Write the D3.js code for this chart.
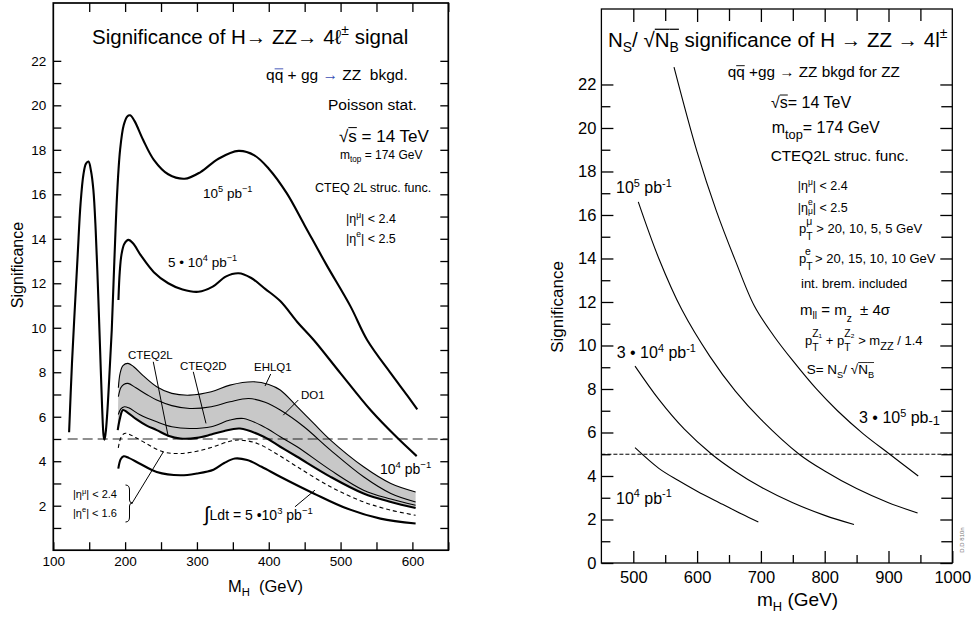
<!DOCTYPE html>
<html><head><meta charset="utf-8">
<script src="https://cdn.jsdelivr.net/npm/d3@7"></script>
<style>body{margin:0;background:#fff}svg{display:block}text{font-family:"Liberation Sans",Arial,Helvetica,sans-serif;white-space:pre}</style>
</head><body><svg id="c" width="972" height="619"></svg>
<script>
// ---------------- DATA (left panel: M_H in GeV, significance) ----------------
const leftXTicks = [100, 200, 300, 400, 500, 600];
const leftYTicks = [2, 4, 6, 8, 10, 12, 14, 16, 18, 20, 22];
const L_1e5 = [[122,5.3],[126,8.4],[130,10.9],[134,13.3],[138,15.6],[142,16.9],[145.5,17.38],[149,17.47],[152.5,17.05],[155.8,16.2],[159,14.4],[162.8,11.25],[165.5,8.7],[168,6.4],[170,5.15],[171.2,4.97],[172.8,5.25],[175,6.1],[178,7.8],[181.4,9.9],[185,13.0],[189,16.1],[193,18.0],[198,19.1],[203,19.5],[207,19.55],[213,19.3],[225,18.45],[240,17.55],[260,16.9],[283,16.7],[305,17.0],[330,17.6],[358,17.95],[380,17.75],[400,17.15],[425,16.05],[450,14.6],[480,12.85],[514,10.95],[537,9.45],[570,7.95],[593,6.95],[606.8,6.33]];
const L_5e4 = [[190.7,11.25],[192.5,12.5],[195,13.3],[199,13.78],[204.6,13.95],[211,13.8],[222,13.25],[240,12.5],[260,12.0],[280,11.72],[302,11.62],[322,11.85],[340,12.3],[358,12.45],[375,12.25],[395,11.75],[416,11.2],[440,10.25],[462.6,9.45],[500,7.95],[541.7,6.3],[579,5.05],[606,4.23]];
const L_EHLQ1 = [[190.6,7.3],[193,7.95],[197,8.3],[204,8.4],[212,8.25],[225,7.85],[244,7.35],[265,7.05],[290,6.97],[320,7.12],[346,7.42],[379,7.57],[400,7.45],[416,7.2],[439.5,6.45],[462.6,5.7],[486,4.95],[532,3.75],[570,3.0],[604.5,2.62]];
const L_DO1 = [[190.6,6.9],[194,7.3],[198,7.45],[204,7.5],[215,7.3],[230,7.0],[244,6.75],[265,6.5],[290,6.37],[320,6.45],[346,6.67],[372,6.82],[395,6.65],[416,6.3],[449,5.55],[486,4.5],[532,3.3],[570,2.55],[604.5,2.17]];
const L_CTEQ2D = [[190.6,6.1],[194,6.35],[199,6.45],[205,6.4],[220,6.1],[244,5.77],[265,5.55],[290,5.47],[320,5.55],[346,5.85],[365,5.92],[393,5.55],[416,5.1],[439.5,4.65],[486,3.6],[532,2.7],[570,2.3],[604.5,2.02]];
const L_CTEQ2L_1e4 = [[189.7,5.4],[193,5.95],[197,6.3],[203,6.2],[215,5.9],[230,5.6],[244,5.4],[260,5.15],[277,5.02],[300,5.05],[320,5.2],[337,5.35],[360,5.47],[393,5.1],[416,4.65],[439.5,4.2],[486,3.3],[532,2.55],[570,2.17],[604.5,1.9]];
const L_eta16 = [[190.5,4.6],[194,5.05],[199,5.25],[205,5.22],[221,4.95],[253,4.42],[277,4.35],[300,4.45],[323,4.65],[346,4.9],[360,4.95],[384,4.8],[410,4.35],[439.5,3.75],[486,2.85],[532,2.17],[570,1.8],[604.5,1.57]];
const L_5e3 = [[190.5,3.67],[194,4.1],[198,4.22],[205,4.15],[220,3.9],[244,3.52],[277,3.37],[300,3.45],[323,3.62],[338,3.92],[353,4.12],[370,4.05],[390,3.75],[416,3.3],[462.6,2.55],[509,1.87],[555.5,1.42],[604.5,1.2]];
const L_threshold = [[120,5],[650,5]];
// pointer lines (data coords)
const L_pointers = [
  [[239.2,8.47],[260.1,5.1]],   // CTEQ2L
  [[294.9,8.02],[312.6,5.7]],   // CTEQ2D
  [[402.7,7.92],[394.8,7.38]],  // EHLQ1
  [[441.1,6.75],[420.2,6.07]],  // DO1
  [[209.6,2.11],[253.2,4.42]],  // eta < 1.6
  [[436.5,1.95],[464.3,2.7]]    // 5e3
];
// ---------------- DATA (right panel) ----------------
const rightXTicks = [500, 600, 700, 800, 900, 1000];
const rightYTicks = [0, 2, 4, 6, 8, 10, 12, 14, 16, 18, 20, 22];
const R_3e5 = [[563.8,22.8],[600,18.9],[630,16.2],[660,13.9],[690,11.8],[720,10.45],[750,9.3],[787,8.0],[820,7.0],[860,5.95],[902,5.0],[946.6,4.0]];
const R_1e5 = [[507.8,16.6],[540,14.0],[576,11.65],[620,9.5],[660,7.9],[700,6.6],[760,5.0],[800,4.23],[850,3.42],[900,2.77],[945.6,2.3]];
const R_3e4 = [[502.7,9.05],[540,7.52],[580,6.15],[622.9,5.0],[660,4.21],[700,3.49],[750,2.77],[800,2.19],[845.9,1.77]];
const R_1e4 = [[502.7,5.3],[540,4.35],[570,3.8],[600,3.3],[640,2.7],[670,2.25],[696,1.88]];
const R_threshold = [[450,5],[1000,5]];

// ---------------- DRAW ----------------
const svg = d3.select('#c');
const xL = d3.scaleLinear([100,650],[53.3,448.3]);
const yL = d3.scaleLinear([0,24.6],[550.2,3]);
const xR = d3.scaleLinear([450,1000],[601.4,952.3]);
const yR = d3.scaleLinear([0,25.47],[563,9]);

const curve = d3.curveCatmullRom.alpha(0.5);
const lineL = d3.line().x(d=>xL(d[0])).y(d=>yL(d[1])).curve(curve);
const lineR = d3.line().x(d=>xR(d[0])).y(d=>yR(d[1])).curve(curve);
const straightL = d3.line().x(d=>xL(d[0])).y(d=>yL(d[1]));
const straightR = d3.line().x(d=>xR(d[0])).y(d=>yR(d[1]));

// rich text helper
function rich(g, x, y, fs, segs, opts={}) {
  const t = g.append('text').attr('x',x).attr('y',y).attr('font-size',fs)
     .attr('text-anchor', opts.anchor||'start');
  if (opts.transform) t.attr('transform', opts.transform);
  let cur = 0, prevW = 0, pendingDx = 0, idx = 0;
  const overs = [];
  segs.forEach(s => {
    const sz = fs * (s.k || (s.s ? 0.68 : 1));
    let off = s.s==='sup' ? -fs*0.42 : s.s==='sub' ? fs*0.28 : 0;
    if (s.off !== undefined) off = fs*s.off;
    const ts = t.append('tspan').attr('font-size', sz).text(s.t);
    const dy = off - cur; if (Math.abs(dy)>1e-6) ts.attr('dy', dy); cur = off;
    let dx = pendingDx; pendingDx = 0;
    if (s.stack) dx -= prevW;
    if (dx) ts.attr('dx', dx);
    if (s.fill) ts.attr('fill', s.fill);
    const w = ts.node().getComputedTextLength();
    if (s.stack && w < prevW) pendingDx = prevW - w;
    if (s.over) overs.push({a: idx, b: idx + s.t.length - 1, fill: s.overFill || '#000', k: s.overK || 0.8});
    idx += s.t.length;
    prevW = w;
  });
  const node = t.node();
  overs.forEach(o => {
    const p0 = node.getStartPositionOfChar(o.a), p1 = node.getEndPositionOfChar(o.b);
    g.append('line').attr('x1',p0.x).attr('x2',p1.x).attr('y1',y - fs*o.k).attr('y2',y - fs*o.k)
      .attr('stroke',o.fill).attr('stroke-width',Math.max(0.8, fs*0.06))
      .attr('transform', opts.transform||null);
  });
  return t;
}

// ======== LEFT PANEL ========
const gL = svg.append('g');
// band
const bandPath = lineL(L_EHLQ1) + lineL(L_CTEQ2L_1e4.slice().reverse()).replace(/^M/,'L') + 'Z';
gL.append('path').attr('d', bandPath).attr('fill','#c8c8c8').attr('stroke','none');

// axes
function styleAxis(sel){ sel.select('.domain').remove(); sel.selectAll('.tick line').attr('stroke','#000').attr('stroke-width',1.3); sel.selectAll('.tick text').attr('fill','#000').attr('font-family','"Liberation Sans",Arial,sans-serif'); }
gL.append('g').attr('transform',`translate(0,${yL(0)})`)
  .call(d3.axisBottom(xL).tickValues(d3.range(100,651,50)).tickSize(-8).tickPadding(6)
        .tickFormat(d => leftXTicks.includes(d) ? d : ''))
  .call(styleAxis).selectAll('text').attr('font-size',13.5);
gL.append('g').attr('transform',`translate(0,${yL(24.6)})`)
  .call(d3.axisTop(xL).tickValues(d3.range(150,651,50)).tickSize(-9).tickFormat(''))
  .call(styleAxis);
gL.append('g').attr('transform',`translate(${xL(100)},0)`)
  .call(d3.axisLeft(yL).tickValues(d3.range(1,23)).tickSize(-8).tickPadding(7)
        .tickFormat(d => leftYTicks.includes(d) ? d : ''))
  .call(styleAxis).selectAll('text').attr('font-size',13.5);
gL.append('g').attr('transform',`translate(${xL(650)},0)`)
  .call(d3.axisRight(yL).tickValues(d3.range(1,23)).tickSize(-8).tickFormat(''))
  .call(styleAxis);
gL.append('rect').attr('x',xL(100)).attr('y',yL(24.6)).attr('width',xL(650)-xL(100)).attr('height',yL(0)-yL(24.6))
  .attr('fill','none').attr('stroke','#000').attr('stroke-width',1.7);

// threshold
gL.append('path').attr('d', straightL(L_threshold)).attr('fill','none').attr('stroke','#222').attr('stroke-width',1.2).attr('stroke-dasharray','10,5');
// curves
const leftSeries = [
  {d:L_1e5, w:2.1}, {d:L_5e4, w:2.1}, {d:L_EHLQ1, w:1.1}, {d:L_DO1, w:1.1},
  {d:L_CTEQ2D, w:1.1}, {d:L_CTEQ2L_1e4, w:2.1}, {d:L_eta16, w:1.1, dash:'4,3'}, {d:L_5e3, w:2.1}
];
leftSeries.forEach(s => gL.append('path').attr('d', lineL(s.d)).attr('fill','none').attr('stroke','#000')
  .attr('stroke-width', s.w).attr('stroke-dasharray', s.dash||null).attr('stroke-linejoin','round'));
L_pointers.forEach(p => gL.append('path').attr('d', straightL(p)).attr('stroke','#000').attr('stroke-width',1));
// brace
gL.append('path').attr('d','M125.5,485 q4,0 4,5 v10 q0,3 3,3 q-3,0 -3,3 v11 q0,5 -4,5').attr('fill','none').attr('stroke','#000').attr('stroke-width',1);

// left texts
const BLUE = '#3a4db5';
rich(gL, 92, 44, 20.5, [{t:'Significance of H'},{t:'→ '},{t:'ZZ'},{t:'→ '},{t:'4ℓ'},{t:'±',s:'sup'},{t:' signal'}]);
rich(gL, 266, 80, 15.5, [{t:'q'},{t:'q',over:true,overFill:BLUE,overK:0.72},{t:' + gg '},{t:'→',fill:BLUE},{t:' ZZ  bkgd.'}]);
rich(gL, 328, 110, 15.5, [{t:'Poisson stat.'}]);
rich(gL, 339, 141.7, 17, [{t:'√'},{t:'s',over:true,overK:0.83},{t:' = 14 TeV'}]);
rich(gL, 340, 159, 12, [{t:'m'},{t:'top',s:'sub'},{t:' = 174 GeV'}]);
rich(gL, 315, 191.7, 12.5, [{t:'CTEQ 2L struc. func.'}]);
rich(gL, 346, 223, 12.5, [{t:'|η'},{t:'μ',s:'sup'},{t:'| < 2.4'}]);
rich(gL, 346, 242.5, 12.5, [{t:'|η'},{t:'e',s:'sup'},{t:'| < 2.5'}]);
rich(gL, 203, 198, 13.5, [{t:'10'},{t:'5',s:'sup'},{t:' pb'},{t:'−1',s:'sup'}]);
rich(gL, 168, 266.7, 13.5, [{t:'5 • 10'},{t:'4',s:'sup'},{t:' pb'},{t:'−1',s:'sup'}]);
rich(gL, 128, 359.3, 11.5, [{t:'CTEQ2L'}]);
rich(gL, 180, 370, 11.5, [{t:'CTEQ2D'}]);
rich(gL, 254, 371, 11.5, [{t:'EHLQ1'}]);
rich(gL, 301, 399, 11.5, [{t:'DO1'}]);
rich(gL, 380, 474, 14, [{t:'10'},{t:'4',s:'sup'},{t:' pb'},{t:'−1',s:'sup'}]);
rich(gL, 73, 498.3, 11, [{t:'|η'},{t:'μ',s:'sup'},{t:'| < 2.4'}]);
rich(gL, 73, 516.7, 11, [{t:'|η'},{t:'e',s:'sup'},{t:'| < 1.6'}]);
rich(gL, 204, 520, 14, [{t:'∫',k:1.45,off:0.05},{t:'Ldt = 5 •10'},{t:'3',s:'sup'},{t:' pb'},{t:'−1',s:'sup'}]);
rich(gL, 0, 0, 16, [{t:'Significance'}], {anchor:'middle', transform:'translate(23,265) rotate(-90)'});
rich(gL, 228, 591.7, 16.5, [{t:'M'},{t:'H',s:'sub'},{t:'  (GeV)'}]);

// ======== RIGHT PANEL ========
const gR = svg.append('g');
function ticksR(axisFn, tr, vals, size) {
  return gR.append('g').attr('transform', tr).call(axisFn.tickValues(vals).tickSize(size).tickFormat('')).call(styleAxis);
}
// minor ticks
ticksR(d3.axisBottom(xR), `translate(0,${yR(0)})`, d3.range(550,1000,100), -8);
ticksR(d3.axisTop(xR), `translate(0,${yR(25.47)})`, d3.range(550,1000,100), -12);
ticksR(d3.axisLeft(yR), `translate(${xR(450)},0)`, d3.range(1,22,2), -9);
ticksR(d3.axisRight(yR), `translate(${xR(1000)},0)`, d3.range(1,22,2), -11);
// major ticks with labels
gR.append('g').attr('transform',`translate(0,${yR(0)})`)
  .call(d3.axisBottom(xR).tickValues(rightXTicks).tickSize(-12).tickPadding(8).tickFormat(d=>d))
  .call(styleAxis).selectAll('text').attr('font-size',16.5);
ticksR(d3.axisTop(xR), `translate(0,${yR(25.47)})`, rightXTicks.slice(0,5), -13);
gR.append('g').attr('transform',`translate(${xR(450)},0)`)
  .call(d3.axisLeft(yR).tickValues(rightYTicks).tickSize(-12).tickPadding(5).tickFormat(d=>d))
  .call(styleAxis).selectAll('text').attr('font-size',16.5);
ticksR(d3.axisRight(yR), `translate(${xR(1000)},0)`, rightYTicks, -12);
gR.append('rect').attr('x',xR(450)).attr('y',yR(25.47)).attr('width',xR(1000)-xR(450)).attr('height',yR(0)-yR(25.47))
  .attr('fill','none').attr('stroke','#000').attr('stroke-width',1.3);

gR.append('path').attr('d', straightR(R_threshold)).attr('fill','none').attr('stroke','#000').attr('stroke-width',1).attr('stroke-dasharray','4,2');
[R_3e5, R_1e5, R_3e4, R_1e4].forEach(d => gR.append('path').attr('d', lineR(d)).attr('fill','none').attr('stroke','#000').attr('stroke-width',1.1));

rich(gR, 608, 46.7, 20.5, [{t:'N'},{t:'S',s:'sub'},{t:'/ '},{t:'√'},{t:'N',over:true,overK:0.85},{t:'B',s:'sub',over:true,overK:0.85},{t:' significance of H → ZZ → 4l'},{t:'±',s:'sup'}]);
rich(gR, 727.7, 76.7, 15.3, [{t:'q'},{t:'q',over:true,overK:0.72},{t:' +gg → ZZ bkgd for ZZ'}]);
rich(gR, 771, 108.3, 16, [{t:'√'},{t:'s',over:true,overK:0.83},{t:'= 14 TeV'}]);
rich(gR, 771.7, 133.3, 16, [{t:'m'},{t:'top',s:'sub',off:0.33,k:0.8},{t:'= 174 GeV'}]);
rich(gR, 770.7, 161, 15.3, [{t:'CTEQ2L struc. func.'}]);
rich(gR, 797.7, 190, 12.5, [{t:'|η'},{t:'μ',s:'sup'},{t:'| < 2.4'}]);
rich(gR, 797.7, 211.7, 12.5, [{t:'|η'},{t:'μ',s:'sub',off:0.22},{t:'e',s:'sup',off:-0.5,stack:true},{t:'| < 2.5'}]);
rich(gR, 799, 233.3, 13, [{t:'p'},{t:'T',s:'sub',off:0.55,k:0.8},{t:'μ',s:'sup',off:-0.65,k:0.8,stack:true},{t:' > 20, 10, 5, 5 GeV'}]);
rich(gR, 799, 263.3, 13, [{t:'p'},{t:'T',s:'sub',off:0.55,k:0.8},{t:'e',s:'sup',off:-0.65,k:0.8,stack:true},{t:' > 20, 15, 10, 10 GeV'}]);
rich(gR, 801, 288.3, 13, [{t:'int. brem. included'}]);
rich(gR, 800, 315, 15, [{t:'m'},{t:'ll',s:'sub'},{t:' = m'},{t:'z',s:'sub',off:0.45},{t:'  ± 4σ'}]);
rich(gR, 805, 345, 13, [{t:'p'},{t:'T',s:'sub',off:0.45,k:0.8},{t:'Z₁',s:'sup',off:-0.6,k:0.8,stack:true},{t:' + p'},{t:'T',s:'sub',off:0.45,k:0.8},{t:'Z₂',s:'sup',off:-0.6,k:0.8,stack:true},{t:' > m'},{t:'ZZ',s:'sub',off:0.35,k:0.85},{t:' / 1.4'}]);
rich(gR, 806.7, 374, 13.5, [{t:'S= N'},{t:'S',s:'sub'},{t:'/ '},{t:'√'},{t:'N',over:true,overK:0.85},{t:'B',s:'sub',over:true,overK:0.85}]);
rich(gR, 616, 193.3, 16, [{t:'10'},{t:'5',s:'sup'},{t:' pb'},{t:'-1',s:'sup'}]);
rich(gR, 616.7, 358.3, 16, [{t:'3 • 10'},{t:'4',s:'sup'},{t:' pb'},{t:'-1',s:'sup'}]);
rich(gR, 859, 423.3, 16, [{t:'3 • 10'},{t:'5',s:'sup'},{t:' pb'},{t:'-1',s:'sub',off:0.08,k:0.8}]);
rich(gR, 616, 504, 16, [{t:'10'},{t:'4',s:'sup'},{t:' pb'},{t:'-1',s:'sup'}]);
rich(gR, 0, 0, 17, [{t:'Significance'}], {anchor:'middle', transform:'translate(563,307) rotate(-90)'});
rich(gR, 757, 606, 19, [{t:'m'},{t:'H',s:'sub'},{t:' (GeV)'}]);
rich(gR, 0, 0, 6, [{t:'D.D 810n'}], {anchor:'middle', transform:'translate(964,540) rotate(-90)'}).attr('fill','#777');
</script></body></html>
